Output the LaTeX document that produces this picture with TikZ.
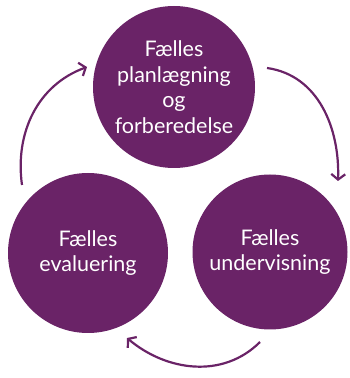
\documentclass[tikz,border=0pt]{standalone}
\usepackage{fontspec}
\setmainfont{Lato}
\usetikzlibrary{positioning, arrows.meta}
\definecolor{plum}{RGB}{106,35,103}

\tikzset{
    phase/.style={circle, fill=plum, text=white, align=center, minimum size=160pt, inner sep=0pt,
        font=\fontsize{21.5pt}{25.5pt}\selectfont},
    cycle/.style={draw=plum, line width=2.2pt, ->},
    >={Straight Barb[length=5.5pt, width=14pt, line width=2.2pt]}
}

\begin{document}
\begin{tikzpicture}[x=1pt, y=1pt]
    \useasboundingbox (0, 0) rectangle (349, 378);

    \node (plan) [phase, minimum size=162pt] at (174, 291) {Fælles\\planlægning\\og\\forberedelse};
    \node (eval) [phase] at (88, 125) {Fælles\\evaluering};
    \node (teach) [phase, minimum size=155pt] at (270, 126) {Fælles\\undervisning};

    % arrow ends
    \coordinate (e1) at (22, 193);
    \coordinate (p1) at (87, 311);
    \coordinate (p2) at (267, 310);
    \coordinate (t2) at (338, 197);
    \coordinate (t3) at (260, 36);
    \coordinate (e3) at (127, 40);

    \draw [cycle] (e1) to[out=98, in=200] (p1);
    \draw [cycle] (p2) to[out=-8, in=88] (t2);
    \draw [cycle] (t3) to[out=-135, in=-40] (e3);
\end{tikzpicture}
\end{document}
